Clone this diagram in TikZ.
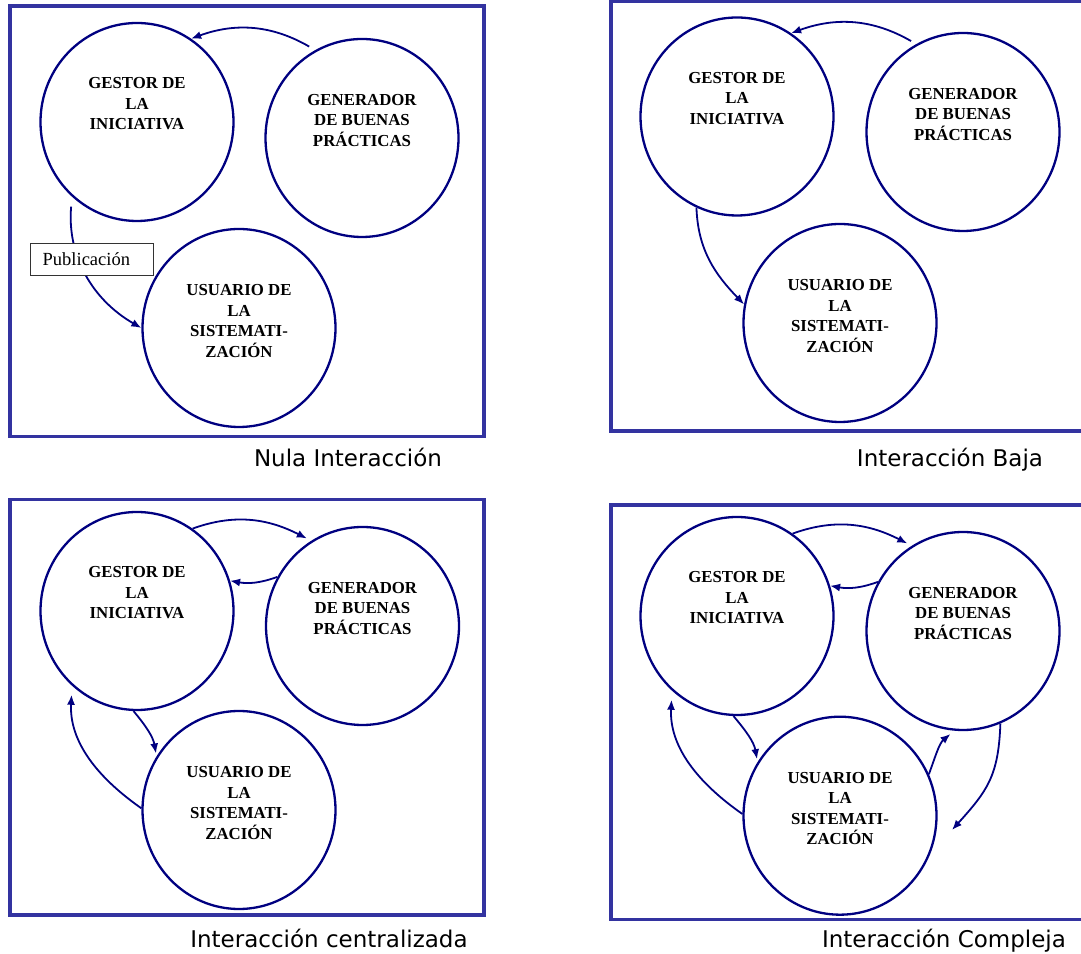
\documentclass[tikz,border=0pt]{standalone}
\usepackage{fontspec}
\setmainfont{Liberation Serif}
\newfontfamily\capfont{DejaVu Sans}
\usetikzlibrary{shapes.geometric,arrows.meta}
\definecolor{navyline}{RGB}{0,0,128}
\definecolor{framecol}{RGB}{51,51,160}
\begin{document}
\begin{tikzpicture}[x=1pt,y=1pt,
  frame/.style={draw=framecol,line width=3.4pt},
  actor/.style={ellipse,draw=navyline,line width=2.3pt,minimum width=193pt,minimum height=198pt,inner sep=0pt},
  ctext/.style={align=center,inner sep=0pt,font=\bfseries\fontsize{16.8}{20.5}\selectfont},
  flow/.style={draw=navyline,line width=1.8pt,-{Latex[length=10pt,width=8pt]}},
  pubbox/.style={draw=black!80,line width=1pt,fill=white,minimum width=123pt,minimum height=32pt,
    text width=97.6pt,inner xsep=12.7pt,inner ysep=0pt,align=left,text height=21.3pt,text depth=10.7pt,
    font=\fontsize{18.5}{22}\selectfont},
  caption/.style={anchor=base,inner sep=0pt,font=\capfont\fontsize{23}{27}\selectfont}]
\path[use as bounding box] (0,0) rectangle (1081,953);
\clip (0,0) rectangle (1081,953);

% frames
\draw[frame] (10,947) rectangle (484,516.5);
\draw[frame] (611,952) rectangle (1095,522);
\draw[frame] (10,453.7) rectangle (484,38);
\draw[frame] (611,448) rectangle (1095,33.7);

% ---------- panel 1: Nula Interaccion
\node[actor] (g1) at (137,831) {};
\node[actor] (b1) at (362,815) {};
\node[actor] (u1) at (239,625) {};
\node[ctext,yshift=18pt] (g1t) at (g1) {GESTOR DE\\LA\\INICIATIVA};
\node[ctext,yshift=17.5pt] (b1t) at (b1) {GENERADOR\\DE BUENAS\\PRÁCTICAS};
\node[ctext,yshift=7pt] (u1t) at (u1) {USUARIO DE\\LA\\SISTEMATI-\\ZACIÓN};
\draw[flow,shorten <=7pt] (b1.118) to[out=150,in=20] (g1.57);
\draw[flow,shorten <=10pt] (g1.229) to[out=265,in=150] (u1.180);
\node[pubbox] (pub) at (91.5,693) {Publicación};
\node[caption] (cap1) at (348,486) {Nula Interacción};

% ---------- panel 2: Interaccion Baja
\node[actor] (g2) at (737,836.5) {};
\node[actor] (b2) at (963,821) {};
\node[actor] (u2) at (840,630) {};
\node[ctext,yshift=18pt] (g2t) at (g2) {GESTOR DE\\LA\\INICIATIVA};
\node[ctext,yshift=17.5pt] (b2t) at (b2) {GENERADOR\\DE BUENAS\\PRÁCTICAS};
\node[ctext,yshift=7pt] (u2t) at (u2) {USUARIO DE\\LA\\SISTEMATI-\\ZACIÓN};
\draw[flow,shorten <=6pt] (b2.118) to[out=150,in=20] (g2.57);
\draw[flow] (g2.246) to[out=272,in=134] (u2.169);
\node[caption] (cap2) at (950,486) {Interacción Baja};

% ---------- panel 3: Interaccion centralizada
\node[actor] (g3) at (137,342) {};
\node[actor] (b3) at (362.5,327) {};
\node[actor] (u3) at (239,143) {};
\node[ctext,yshift=18pt] (g3t) at (g3) {GESTOR DE\\LA\\INICIATIVA};
\node[ctext,yshift=17.5pt] (b3t) at (b3) {GENERADOR\\DE BUENAS\\PRÁCTICAS};
\node[ctext,yshift=7pt] (u3t) at (u3) {USUARIO DE\\LA\\SISTEMATI-\\ZACIÓN};
\draw[flow,shorten >=5pt] (g3.56) to[out=20,in=153] (b3.121);
\draw[flow] (b3.150) to[out=200,in=-10] (g3.18);
\draw[flow,shorten >=3pt] (g3.268) to[out=-50,in=100] (u3.147);
\draw[flow,shorten >=9pt] (u3.179) to[out=145,in=-93] (g3.229);
\node[caption] (cap3) at (329,6) {Interacción centralizada};

% ---------- panel 4: Interaccion Compleja
\node[actor] (g4) at (737,337) {};
\node[actor] (b4) at (963,322) {};
\node[actor] (u4) at (840,137.3) {};
\node[ctext,yshift=18pt] (g4t) at (g4) {GESTOR DE\\LA\\INICIATIVA};
\node[ctext,yshift=17.5pt] (b4t) at (b4) {GENERADOR\\DE BUENAS\\PRÁCTICAS};
\node[ctext,yshift=7pt] (u4t) at (u4) {USUARIO DE\\LA\\SISTEMATI-\\ZACIÓN};
\draw[flow,shorten >=5pt] (g4.56) to[out=20,in=153] (b4.121);
\draw[flow] (b4.150) to[out=200,in=-10] (g4.18);
\draw[flow,shorten >=3pt] (g4.268) to[out=-50,in=100] (u4.147);
\draw[flow,shorten >=9pt] (u4.179) to[out=145,in=-93] (g4.229);
\draw[flow,shorten >=5pt] (u4.25) to[out=70,in=220] (b4.265);
\coordinate (u4tip) at (952,123);
\draw[flow] (b4.292) to[out=268,in=48,looseness=1.15] (u4tip);
\node[caption] (cap4) at (944,6) {Interacción Compleja};
\end{tikzpicture}
\end{document}
